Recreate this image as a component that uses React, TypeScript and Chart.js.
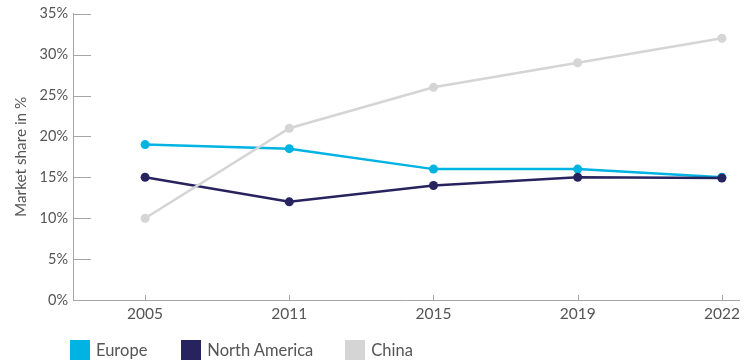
import React, { useEffect, useRef } from "react";
import { Chart, registerables } from "chart.js";

Chart.register(...registerables);

const years = ["2005", "2011", "2015", "2019", "2022"];
const europe = [19, 18.5, 16, 16, 15];
const northAmerica = [15, 12, 14, 15, 14.9];
const china = [10, 21, 26, 29, 32];
const yTicks = [0, 5, 10, 15, 20, 25, 30, 35];

const seriesNames = ["Europe", "North America", "China"];
const seriesColors = ["#00b3e3", "#27235f", "#d5d5d5"];

const FONT = "Lato, 'Open Sans', sans-serif";
const TEXT = "#555555";
const AXIS = "#a6a6a6";

const innerTicks = {
  id: "innerTicks",
  afterDraw(chart: any) {
    const { ctx, chartArea, scales } = chart;
    ctx.save();
    ctx.strokeStyle = AXIS;
    ctx.lineWidth = 1;
    ctx.beginPath();
    for (const v of yTicks) {
      if (v === 0) continue;
      const y = Math.round(scales.y.getPixelForValue(v)) + 0.5;
      ctx.moveTo(chartArea.left, y);
      ctx.lineTo(chartArea.left + 18, y);
    }
    for (let i = 0; i < years.length; i++) {
      const x = Math.round(scales.x.getPixelForValue(i)) + 0.5;
      ctx.moveTo(x, chartArea.bottom);
      ctx.lineTo(x, chartArea.bottom - 5);
    }
    ctx.stroke();
    ctx.restore();
  },
};

export default function App() {
  const ref = useRef<HTMLCanvasElement>(null);
  useEffect(() => {
    const mk = (vals: number[]) => vals.map((v, i) => ({ x: i, y: v }));
    const data = [europe, northAmerica, china];
    const chart = new Chart(ref.current!, {
      type: "line",
      data: {
        datasets: [2, 1, 0].map((k) => ({
          label: seriesNames[k],
          data: mk(data[k]),
          borderColor: seriesColors[k],
          backgroundColor: seriesColors[k],
          borderWidth: 2.5,
          pointRadius: 4.5,
          pointHoverRadius: 4.5,
          pointBorderWidth: 0,
          tension: 0,
        })),
      },
      options: {
        animation: false,
        responsive: false,
        maintainAspectRatio: false,
        layout: { padding: { top: 13, right: 3, bottom: 39, left: 0 } },
        plugins: { legend: { display: false }, tooltip: { enabled: false } },
        scales: {
          x: {
            type: "linear",
            min: -0.5,
            max: 4.125,
            afterBuildTicks: (s: any) => {
              s.ticks = years.map((_, i) => ({ value: i }));
            },
            afterFit: (s: any) => {
              s.height = 24;
            },
            grid: { display: false, drawTicks: false },
            border: { display: true, color: AXIS, width: 1 },
            ticks: {
              padding: 5,
              color: TEXT,
              font: { family: FONT, size: 15.5 },
              maxRotation: 0,
              autoSkip: false,
              callback: (v: any) => years[v as number] ?? "",
            },
          },
          y: {
            min: 0,
            max: 35,
            afterBuildTicks: (s: any) => {
              s.ticks = yTicks.map((v) => ({ value: v }));
            },
            afterFit: (s: any) => {
              s.width = 73;
            },
            grid: { display: false, drawTicks: false },
            border: { display: true, color: AXIS, width: 1 },
            ticks: {
              padding: 5,
              color: TEXT,
              font: { family: FONT, size: 14.5 },
              callback: (v: any) => v + "%",
            },
            title: {
              display: true,
              text: "Market share in %",
              color: TEXT,
              font: { family: FONT, size: 15.3 },
              padding: { top: 12, bottom: 0 },
            },
          },
        },
      },
      plugins: [innerTicks],
    });
    return () => chart.destroy();
  }, []);

  return (
    <div style={{ position: "absolute", left: 0, top: 0, width: 745, height: 363, background: "#fff" }}>
      <canvas ref={ref} width={745} height={363} style={{ display: "block" }} />
      <div
        style={{
          position: "absolute",
          left: 70,
          top: 340,
          display: "flex",
          alignItems: "center",
          fontFamily: FONT,
          fontSize: 16.5,
          color: TEXT,
        }}
      >
        {seriesNames.map((n, i) => (
          <div key={n} style={{ display: "flex", alignItems: "center", marginRight: i === 0 ? 34 : 32 }}>
            <span style={{ width: 20, height: 20, background: seriesColors[i], display: "inline-block", marginRight: 6 }} />
            <span style={{ lineHeight: "20px" }}>{n}</span>
          </div>
        ))}
      </div>
    </div>
  );
}
